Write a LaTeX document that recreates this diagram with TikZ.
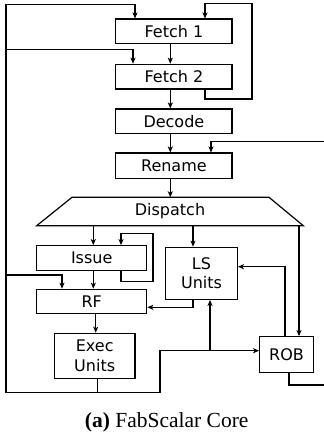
\documentclass[tikz,border=0pt]{standalone}
\usepackage{fontspec}
\setmainfont{Liberation Serif}
\newfontfamily\diagfont{DejaVu Sans}
\usetikzlibrary{arrows.meta}
\begin{document}
\begin{tikzpicture}[x=1pt,y=-1pt,
  box/.style={draw,line width=1.2pt,inner sep=0pt,align=center,
    font=\diagfont\fontsize{16}{19.5}\selectfont},
  arr/.style={line width=1.2pt,-{Stealth[length=6pt,width=5pt,inset=1.5pt]}},
  wire/.style={line width=1.2pt}]
\useasboundingbox (0,0) rectangle (324,432);

% pipeline stages
\node[box,minimum width=116.3pt,minimum height=24.7pt] (f1) at (173.9,31.4) {Fetch 1};
\node[box,minimum width=116.3pt,minimum height=24.7pt] (f2) at (173.9,76.7) {Fetch 2};
\node[box,minimum width=116.3pt,minimum height=24.7pt] (dec) at (173.9,121.4) {Decode};
\node[box,minimum width=116.3pt,minimum height=25.3pt] (ren) at (173.9,165.7) {Rename};

% dispatch trapezoid
\node[box,draw=none,minimum width=266.6pt,minimum height=28.4pt] (disp) at (170,211.5) {Dispatch};
\draw[wire,line join=miter] (72,197.3) -- (269,197.3) -- (303.3,225.7) -- (36.7,225.7) -- cycle;

\node[box,minimum width=110pt,minimum height=25pt] (iss) at (91.7,258.2) {Issue};
\node[box,minimum width=71.6pt,minimum height=52pt] (ls) at (201.5,273.3) {LS\\Units};
\node[box,minimum width=110pt,minimum height=24pt] (rf) at (91.7,301.3) {RF};
\node[box,minimum width=80.7pt,minimum height=45pt] (exec) at (94.7,355.8) {Exec\\Units};
\node[box,minimum width=53.6pt,minimum height=35.6pt] (rob) at (286.5,354.5) {ROB};

% column positions of the wires
\coordinate (xC) at (170.3,0);
\coordinate (xI) at (93.3,0);
\coordinate (xIL) at (121,0);
\coordinate (xLS) at (193,0);
\coordinate (xR) at (299,0);
\coordinate (xRF) at (62,0);
\coordinate (xEx) at (97.3,0);
\coordinate (xRE) at (95.7,0);
\coordinate (xJL) at (210,0);
\coordinate (xRL) at (285,0);
\coordinate (xRo) at (289,0);
\coordinate (xF1) at (135,0);
\coordinate (xF2) at (133,0);
\coordinate (xFB) at (205,0);
\coordinate (xRn) at (211,0);

% bends and free ends
\coordinate (busB) at (6,392.7);
\coordinate (busT) at (6,4.7);
\coordinate (b1) at (6,49.7);
\coordinate (b2) at (6,275);
\coordinate (jx) at (160,392.7);
\coordinate (jy) at (210,350.7);
\coordinate (lpB) at (252,99);
\coordinate (lpT) at (252,3.3);
\coordinate (rin) at (324,141.3);
\coordinate (rout) at (324,385);
\coordinate (iA) at (121,281.7);
\coordinate (iB) at (153,281.7);
\coordinate (iC) at (153,233.3);
\coordinate (iD) at (121,233.3);

% in-order front end
\draw[arr] (f1.south -| xC) -- (f2.north -| xC);
\draw[arr] (f2.south -| xC) -- (dec.north -| xC);
\draw[arr] (dec.south -| xC) -- (ren.north -| xC);
\draw[arr] (ren.south -| xC) -- (xC |- 0,197.3);
\draw[arr] (f2.south -| xFB) |- (lpB) -- (lpT) -| (f1.north -| xFB);
\draw[arr] (rin) -| (ren.north -| xRn);

% dispatch outputs
\draw[arr] (disp.south -| xI) -- (iss.north -| xI);
\draw[arr] (disp.south -| xLS) -- (ls.north -| xLS);
\draw[arr] (disp.south -| xR) -- (rob.north -| xR);

% issue queue and register read
\draw[arr] (iss.south -| xIL) -- (iA) -- (iB) -- (iC) -- (iD) -- (iss.north -| xIL);
\draw[arr] (iss.south -| xI) -- (rf.north -| xI);
\draw[arr] (ls.south -| xLS) |- ([yshift=-6pt]rf.east);
\draw[arr] (rob.north -| xRL) |- ([yshift=6.6pt]ls.east);
\draw[arr] (rf.south -| xRE) -- (exec.north -| xRE);

% execute results and feedback bus
\draw[arr] (exec.south -| xEx) |- (busB) -- (busT) -| (f1.north -| xF1);
\draw[arr] (b1) -| (f2.north -| xF2);
\draw[arr] (b2) -| (rf.north -| xRF);
\draw[arr] (exec.south -| xEx) |- (jx) |- ([yshift=3.8pt]rob.west);
\draw[arr] (jy) -- (ls.south -| xJL);
\draw[wire] (rob.south -| xRo) |- (rout);

% caption
\node[anchor=base,inner sep=0pt,font=\fontsize{21.5}{26}\selectfont] (cap) at (166.7,427)
  {\textbf{(a)} FabScalar Core};
\end{tikzpicture}
\end{document}
